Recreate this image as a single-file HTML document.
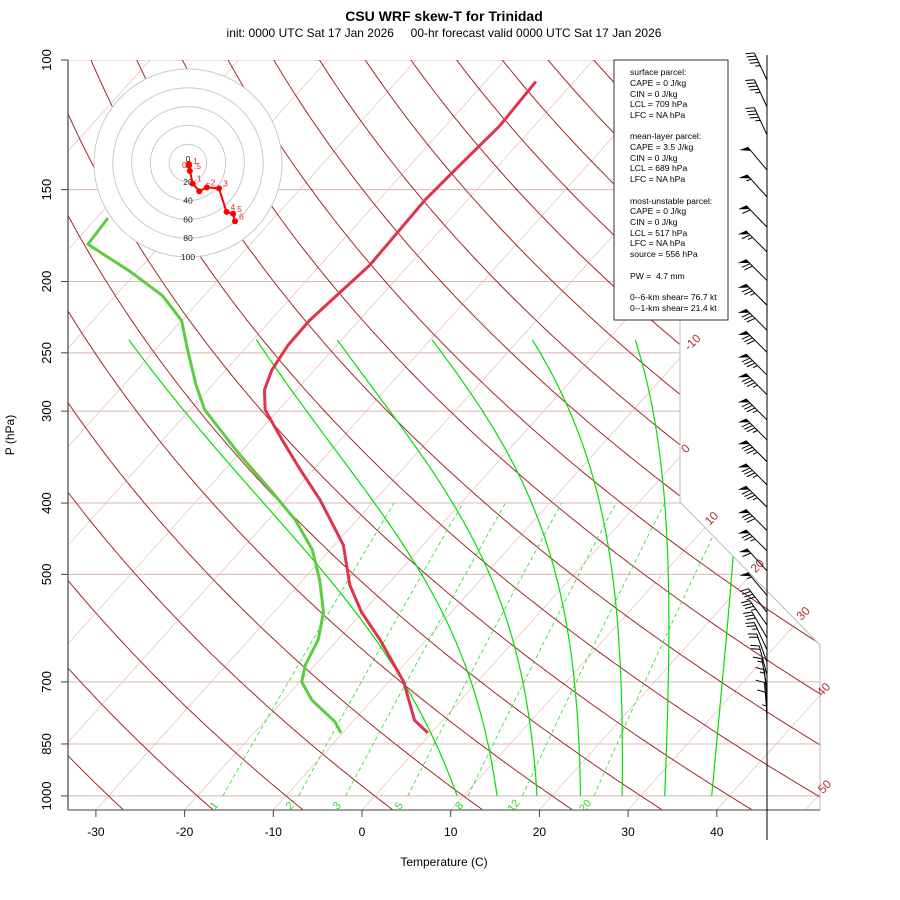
<!DOCTYPE html>
<html><head><meta charset="utf-8"><style>
body{margin:0;background:#fff}
svg{display:block;font-family:"Liberation Sans",sans-serif}
</style></head><body>
<svg id="c" width="900" height="900" viewBox="0 0 900 900">
<defs><clipPath id="plotclip"><polygon points="68,60 680,60 680,502 820,645 820,810 68,810"/></clipPath></defs>
<text x="444" y="21" text-anchor="middle" font-size="14" font-weight="bold">CSU WRF skew-T for Trinidad</text>
<text x="444" y="37" text-anchor="middle" font-size="12">init: 0000 UTC Sat 17 Jan 2026&#160;&#160;&#160;&#160;&#160;00-hr forecast valid 0000 UTC Sat 17 Jan 2026</text>
<g id="plot" clip-path="url(#plotclip)"></g>
<polyline points="680,60 680,502 820,645 820,810" fill="none" stroke="#bbb" stroke-width="1"/>
<g id="axes"></g>
<g id="hodo"></g>
<g id="barbs"></g>
<g>
<rect x="614" y="60" width="114" height="260" fill="#fff" stroke="#333" stroke-width="1"/>
<text font-size="8.6" fill="#000">
<tspan x="630" y="75">surface parcel:</tspan><tspan x="630" y="86">CAPE = 0 J/kg</tspan><tspan x="630" y="97">CIN = 0 J/kg</tspan><tspan x="630" y="107">LCL = 709 hPa</tspan><tspan x="630" y="118">LFC = NA hPa</tspan>
<tspan x="630" y="139">mean-layer parcel:</tspan><tspan x="630" y="150">CAPE = 3.5 J/kg</tspan><tspan x="630" y="161">CIN = 0 J/kg</tspan><tspan x="630" y="171">LCL = 689 hPa</tspan><tspan x="630" y="182">LFC = NA hPa</tspan>
<tspan x="630" y="204">most-unstable parcel:</tspan><tspan x="630" y="214">CAPE = 0 J/kg</tspan><tspan x="630" y="225">CIN = 0 J/kg</tspan><tspan x="630" y="236">LCL = 517 hPa</tspan><tspan x="630" y="246">LFC = NA hPa</tspan><tspan x="630" y="257">source = 556 hPa</tspan>
<tspan x="630" y="279">PW =&#160;&#160;4.7 mm</tspan>
<tspan x="630" y="300">0--6-km shear= 76.7 kt</tspan><tspan x="630" y="311">0--1-km shear= 21.4 kt</tspan>
</text></g>
<text x="444" y="866" text-anchor="middle" font-size="12">Temperature (C)</text>
<text transform="translate(14,435) rotate(-90)" text-anchor="middle" font-size="12">P (hPa)</text>
</svg>
<script>
// ---- data ----
const tempP=[821,789,700,614,563,517,456,396,359,328,299,281,264,244,226,207,190,155,139,123,107];
const tempT=[-0.4,-3.2,-8.3,-15.2,-20.1,-24.2,-29.0,-36.2,-41.7,-46.6,-51.5,-53.6,-54.8,-55.5,-55.6,-55.0,-54.4,-54.8,-54.4,-53.9,-54.3];
const dewP=[821,793,741,700,664,614,563,509,463,422,384,344,299,276,248,226,209,194,178,164];
const dewT=[-10.2,-12.0,-16.8,-19.8,-21.1,-22.2,-24.4,-28.1,-32.0,-36.9,-42.8,-49.8,-58.3,-61.9,-66.3,-70.0,-74.7,-80.7,-88.3,-88.7];
const pressureTicks=[100,150,200,250,300,400,500,700,850,1000];
const tempTicks=[-30,-20,-10,0,10,20,30,40];
const isoLabels=[-10,0,10,20,30,40,50];
const isoLabelP=[241,336,418,485,563,714,968];
const dryTheta1000=[-30,-20,-10,0,10,20,30,40,50,60,70,80,90,100,110,120,130,140,150,160,170,180,190,200];
const moistT1000=[9.3,13.8,18.3,23.2,27.9,32.7,38.0];
const moistTTop=[-74.0,-59.6,-50.5,-39.8,-28.5,-16.9,-5.0];
const mixRatios=[1,2,3,5,8,12,20];
const hodoU=[1,1,2,5,12,20,33,41,48,50];
const hodoV=[-1,-3,-8.5,-22,-30,-26,-27,-52,-54,-62];
const hodoLbl=["0","1",".5","1",".5","2","3","4","5","6"];
const barbP=[106.5,115.8,126.4,141.1,153.5,168.7,182.3,199.4,215.4,233,249.6,268,285,308.4,328.3,351.5,377.9,405.3,436,464.7,494.7,534.1,563,586,610,633,658,685,714,740,770,795,821];
const barbSpd=[45,45,45,50,55,60,65,70,75,80,80,85,85,85,85,85,85,85,80,75,60,55,40,35,30,25,20,20,15,15,10,10,5];
const barbDir=[335,335,335,320,318,316,315,315,315,315,315,315,315,315,315,315,315,315,315,315,318,320,322,325,330,335,340,345,350,355,355,358,0];

// ---- scales ----
const NS="http://www.w3.org/2000/svg";
function Y(p){return 60+319.6*Math.log(p/100);}
function X(T,p){return 362+8.87*T+0.9*(810-Y(p));}
function mk(tag,attrs,parent){const e=document.createElementNS(NS,tag);for(const k in attrs)e.setAttribute(k,attrs[k]);parent.appendChild(e);return e;}
const plot=document.getElementById('plot'),axes=document.getElementById('axes');
function line(pts,stroke,w,parent,dash){return mk('polyline',{points:pts.map(q=>q[0].toFixed(1)+','+q[1].toFixed(1)).join(' '),fill:'none',stroke:stroke,'stroke-width':w,'stroke-dasharray':dash||'none','stroke-linejoin':'round'},parent);}
const plevs=[];for(let p=1060;p>=95;p-=5)plevs.push(p);

// isobars
pressureTicks.forEach(p=>{const l=mk('line',{x1:68,x2:830,y1:Y(p),y2:Y(p),stroke:'#dcb4b4','stroke-width':1},plot);

});
// isotherms
for(let T=-150;T<=60;T+=10){const l=line([[X(T,1060),Y(1060)],[X(T,95),Y(95)]],'#ebc4c4',0.8,plot);

}
// dry adiabats
dryTheta1000.forEach(t=>{const th=t+273.15;const pts=plevs.map(p=>[X(th*Math.pow(p/1000,0.288)-273.15,p),Y(p)]);const l=line(pts,'#a02828',1,plot);

});
// mixing ratio
function tdFromW(w,p){const e=w*p/(622+w);const a=Math.log(e/6.112);return 243.5*a/(17.67-a);}
mixRatios.forEach((w,i)=>{const pts=[];for(let p=1000;p>=400;p-=10)pts.push([X(tdFromW(w,p),p),Y(p)]);const l=line(pts,'#22dd22',0.8,plot,'4,3');


const x=X(tdFromW(w,1000),1000)-6;const t=mk('text',{x:0,y:0,'font-size':11,fill:'#22dd22','text-anchor':'middle',transform:`translate(${x},${Y(1000)+12}) rotate(-50)`},plot);t.textContent=w;

});
// moist adiabats
function es(T){return 6.112*Math.exp(17.67*T/(T+243.5));}
moistT1000.forEach((t0,i)=>{let T=t0+273.15,p=1000;const raw=[[p,T]];
while(p>240){const Tc=T-273.15,e=es(Tc),rs=0.622*e/(p-e);const dTdlnp=(287*T+2.5e6*rs)/(1004+2.5e6*2.5e6*rs*0.622/(287*T*T));const dp=-5;T+=dTdlnp*Math.log((p+dp)/p);p+=dp;raw.push([p,T]);}
const corr=(moistTTop[i]+273.15)-raw[raw.length-1][1];const L=Math.log(1000/240);
const pts=raw.map(r=>{const Tc=r[1]-273.15+corr*Math.log(1000/r[0])/L;return [X(Tc,r[0]),Y(r[0])];});
const l=line(pts,'#00e000',1.2,plot);

});
// isotherm labels
isoLabels.forEach((T,i)=>{const p=isoLabelP[i];const t=mk('text',{'font-size':12,fill:'#b03030','text-anchor':'middle',transform:`translate(${X(T,p)},${Y(p)+4}) rotate(-45)`},axes);t.textContent=T;

});
// temperature & dewpoint
const tl=line(tempP.map((p,i)=>[X(tempT[i],p),Y(p)]),'#e0344c',3,plot);


const dl=line(dewP.map((p,i)=>[X(dewT[i],p),Y(p)]),'#5ccc40',3,plot);


// axes
const ya=mk('line',{x1:68,x2:68,y1:60,y2:810,stroke:'#444','stroke-width':1.2},axes);


const xa=mk('line',{x1:68,x2:820,y1:810,y2:810,stroke:'#666','stroke-width':1.2},axes);


pressureTicks.forEach(p=>{mk('line',{x1:61,x2:68,y1:Y(p),y2:Y(p),stroke:'#444'},axes);
const t=mk('text',{'font-size':13,'text-anchor':'middle',transform:`translate(51,${Y(p)}) rotate(-90)`},axes);t.textContent=p;

});
tempTicks.forEach(T=>{const x=362+8.87*T;mk('line',{x1:x,x2:x,y1:810,y2:817,stroke:'#444'},axes);
const t=mk('text',{x:x,y:836,'font-size':12,'text-anchor':'middle'},axes);t.textContent=T;

});
// hodograph
const hg=document.getElementById('hodo'),hcx=188,hcy=163,hs=0.94;
mk('circle',{cx:hcx,cy:hcy,r:100*hs,fill:'#fff',stroke:'none'},hg);
[20,40,60,80,100].forEach(r=>{mk('circle',{cx:hcx,cy:hcy,r:r*hs,fill:'none',stroke:'#c8c8c8','stroke-width':1},hg);
const t=mk('text',{x:hcx,y:hcy+r*hs+3,'font-size':8.5,'text-anchor':'middle',fill:'#222'},hg);t.textContent=r;

});
mk('text',{x:hcx,y:hcy-1,'font-size':8.5,'text-anchor':'middle',fill:'#222'},hg).textContent='0';
const hpts=hodoU.map((u,i)=>[hcx+u*hs,hcy-hodoV[i]*hs]);
const hl=line(hpts,'#ff0000',2,hg);


hpts.forEach((q,i)=>{mk('circle',{cx:q[0],cy:q[1],r:3,fill:'#ff0000'},hg);
const t=mk('text',{x:q[0]+(i==0?-7:4),y:q[1]+(i==0?4:-2),'font-size':8.5,fill:'#ff2020'},hg);t.textContent=hodoLbl[i];

});
// wind barbs
const bg=document.getElementById('barbs');
mk('line',{x1:767,x2:767,y1:55,y2:840,stroke:'#000','stroke-width':1},bg);
barbP.forEach((p,i)=>{const d=barbDir[i]*Math.PI/180,L=30;const bx=767,by=Y(p);
const ux=Math.sin(d),uy=-Math.cos(d);const tx=bx+L*ux,ty=by+L*uy;
const g=mk('g',{},bg);


mk('line',{x1:bx,y1:by,x2:tx,y2:ty,stroke:'#000','stroke-width':1},g);
let s=barbSpd[i],pos=0;const sp=3.5;
function at(k){return [tx-ux*k,ty-uy*k];}
const fdx=uy*0.94+ux*0.34,fdy=-ux*0.94+uy*0.34;
while(s>=50){const a0=at(pos),a1=at(pos+5);mk('polygon',{points:`${a0[0]},${a0[1]} ${a0[0]+fdx*9},${a0[1]+fdy*9} ${a1[0]},${a1[1]}`,fill:'#000'},g);pos+=6;s-=50;}
while(s>=10){const a0=at(pos);mk('line',{x1:a0[0],y1:a0[1],x2:a0[0]+fdx*9,y2:a0[1]+fdy*9,stroke:'#000','stroke-width':1},g);pos+=sp;s-=10;}
if(s>=5){const a0=at(pos===0?sp:pos);mk('line',{x1:a0[0],y1:a0[1],x2:a0[0]+fdx*5,y2:a0[1]+fdy*5,stroke:'#000','stroke-width':1},g);}
});
</script>
</body></html>
